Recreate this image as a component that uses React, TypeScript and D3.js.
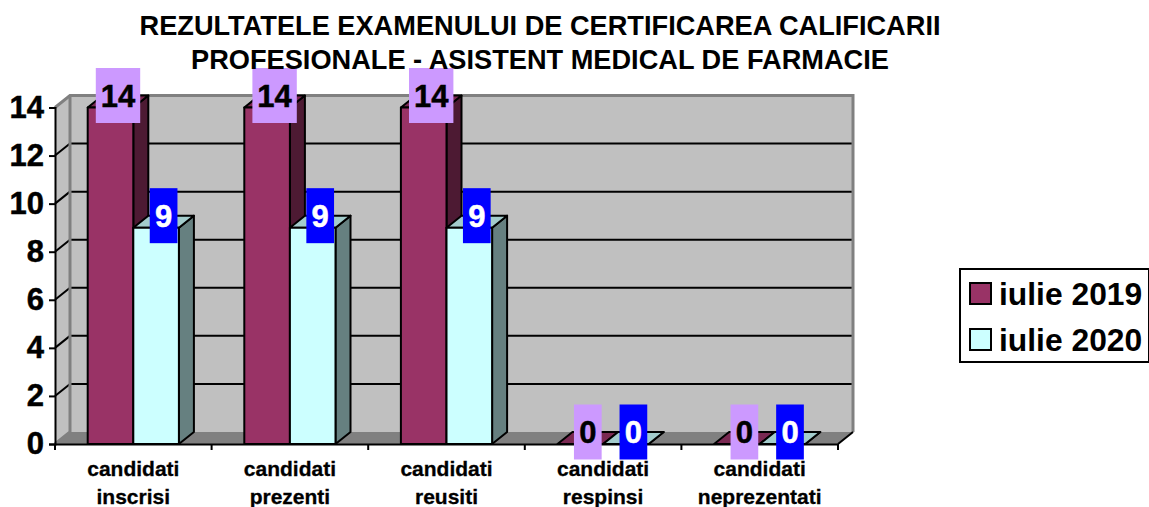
import React, { useEffect, useRef } from "react";
import * as d3 from "d3";

const categories = [
  "candidati inscrisi",
  "candidati prezenti",
  "candidati reusiti",
  "candidati respinsi",
  "candidati neprezentati",
];
const seriesNames = ["iulie 2019", "iulie 2020"];
const values2019 = [14, 14, 14, 0, 0];
const values2020 = [9, 9, 9, 0, 0];
const yTicks = [0, 2, 4, 6, 8, 10, 12, 14];
const titleLines = [
  "REZULTATELE EXAMENULUI DE CERTIFICAREA CALIFICARII",
  "PROFESIONALE - ASISTENT MEDICAL DE FARMACIE",
];

const w = 1149;
const h = 507;
const font = "'Liberation Sans', Arial, sans-serif";
const dx = 15; // 3d depth
const dy = -12;

const colors = [
  { front: "#993366", top: "#7a2952", side: "#4d1a33", label: "#cc99ff", text: "#000" },
  { front: "#ccffff", top: "#a3cccc", side: "#668080", label: "#0000ff", text: "#fff" },
];

function App() {
  const svgRef = useRef<SVGSVGElement>(null);

  useEffect(() => {
    const svg = d3.select(svgRef.current);
    svg.selectAll("*").remove();

    const x0 = d3.scaleBand().domain(categories).range([55, 838]);
    const x1 = d3
      .scaleBand()
      .domain(seriesNames)
      .range([0, x0.step()])
      .paddingInner(0)
      .paddingOuter(0.717);
    const y = d3.scaleLinear().domain([0, 14]).range([444, 107.5]);

    const left = 55;
    const right = 838;
    const pts = (a: number[][]) => a.map((p) => p.join(",")).join(" ");

    // walls
    svg
      .append("polygon")
      .attr("points", pts([[left + dx, y(14) + dy], [right + dx, y(14) + dy], [right + dx, y(0) + dy], [left + dx, y(0) + dy]]))
      .attr("fill", "#c0c0c0");
    svg
      .append("polygon")
      .attr("points", pts([[left, y(14)], [left + dx, y(14) + dy], [left + dx, y(0) + dy], [left, y(0)]]))
      .attr("fill", "#c0c0c0");
    svg
      .append("polygon")
      .attr("points", pts([[left, y(0)], [left + dx, y(0) + dy], [right + dx, y(0) + dy], [right, y(0)]]))
      .attr("fill", "#808080");

    // gridlines
    const grid = yTicks.filter((t) => t > 0 && t < 14);
    svg
      .selectAll("line.grid")
      .data(grid)
      .join("line")
      .attr("x1", left + dx)
      .attr("x2", right + dx)
      .attr("y1", (d) => y(d) + dy)
      .attr("y2", (d) => y(d) + dy)
      .attr("stroke", "#000")
      .attr("stroke-width", 2);
    svg
      .selectAll("line.gridside")
      .data(grid)
      .join("line")
      .attr("x1", left)
      .attr("x2", left + dx)
      .attr("y1", (d) => y(d))
      .attr("y2", (d) => y(d) + dy)
      .attr("stroke", "#000")
      .attr("stroke-width", 2);

    // wall edges
    svg
      .append("polyline")
      .attr("points", pts([[left, y(14)], [left + dx, y(14) + dy], [right + dx, y(14) + dy], [right + dx, y(0) + dy]]))
      .attr("fill", "none")
      .attr("stroke", "#808080")
      .attr("stroke-width", 3);
    svg
      .append("polyline")
      .attr("points", pts([[left, y(0)], [left + dx, y(0) + dy], [left + dx, y(14) + dy]]))
      .attr("fill", "none")
      .attr("stroke", "#808080")
      .attr("stroke-width", 3);
    svg
      .append("line")
      .attr("x1", right)
      .attr("y1", y(0))
      .attr("x2", right + dx)
      .attr("y2", y(0) + dy)
      .attr("stroke", "#000")
      .attr("stroke-width", 2);

    // bars
    const allValues = [values2019, values2020];
    categories.forEach((cat, i) => {
      seriesNames.forEach((s, j) => {
        const v = allValues[j][i];
        const c = colors[j];
        const xa = x0(cat)! + x1(s)!;
        const xb = xa + x1.bandwidth();
        const yv = y(v);
        const y0 = y(0);
        const g = svg.append("g").attr("stroke", "#000").attr("stroke-width", 2).attr("stroke-linejoin", "round");
        g.append("polygon")
          .attr("points", pts([[xb, yv], [xb + dx, yv + dy], [xb + dx, y0 + dy], [xb, y0]]))
          .attr("fill", c.side);
        g.append("polygon")
          .attr("points", pts([[xa, yv], [xa + dx, yv + dy], [xb + dx, yv + dy], [xb, yv]]))
          .attr("fill", c.top);
        g.append("rect")
          .attr("x", xa)
          .attr("y", yv)
          .attr("width", x1.bandwidth())
          .attr("height", y0 - yv)
          .attr("fill", c.front);
      });
    });

    // axes
    const yAxis = d3
      .axisLeft(y)
      .tickValues(yTicks)
      .tickSize(6)
      .tickPadding(5);
    const yG = svg.append("g").attr("transform", `translate(${left},0)`).call(yAxis);
    yG.select(".domain").attr("stroke", "#000").attr("stroke-width", 2);
    yG.selectAll("line").attr("stroke", "#000").attr("stroke-width", 2);
    yG.selectAll("text")
      .attr("font-family", font)
      .attr("font-weight", "bold")
      .attr("font-size", 31)
      .attr("fill", "#000")
      .attr("stroke", "#000")
      .attr("stroke-width", 0.5);

    const xAxis = d3
      .axisBottom(x0)
      .tickValues(categories)
      .tickSize(0)
      .tickFormat(() => "");
    const xG = svg.append("g").attr("transform", `translate(0,${y(0)})`).call(xAxis);
    xG.select(".domain").attr("stroke", "#000").attr("stroke-width", 2);
    xG.selectAll(".tick").remove();

    // tick marks sit between the categories
    svg
      .selectAll("line.xtick")
      .data(d3.range(categories.length + 1))
      .join("line")
      .attr("x1", (d) => left + d * x0.step())
      .attr("x2", (d) => left + d * x0.step())
      .attr("y1", y(0))
      .attr("y2", y(0) + 6)
      .attr("stroke", "#000")
      .attr("stroke-width", 2);

    // category labels
    categories.forEach((cat) => {
      const t = svg
        .append("text")
        .attr("text-anchor", "middle")
        .attr("font-family", font)
        .attr("font-weight", "bold")
        .attr("font-size", 21)
        .attr("fill", "#000")
        .attr("stroke", "#000")
        .attr("stroke-width", 0.3);
      cat.split(" ").forEach((line, k) => {
        t.append("tspan")
          .attr("x", x0(cat)! + x0.bandwidth() / 2)
          .attr("y", 476 + k * 27.5)
          .text(line);
      });
    });

    // data labels
    categories.forEach((cat, i) => {
      seriesNames.forEach((s, j) => {
        const v = allValues[j][i];
        const c = colors[j];
        const cx = x0(cat)! + x1(s)! + x1.bandwidth() / 2 + dx / 2;
        const cy = y(v) + dy;
        const bw = String(v).length * 16.7 + 11;
        svg
          .append("rect")
          .attr("x", cx - bw / 2)
          .attr("y", cy - 27.5)
          .attr("width", bw)
          .attr("height", 55)
          .attr("fill", c.label);
        svg
          .append("text")
          .attr("x", cx)
          .attr("y", cy + 11)
          .attr("text-anchor", "middle")
          .attr("font-family", font)
          .attr("font-weight", "bold")
          .attr("font-size", 31)
          .attr("fill", c.text)
          .attr("stroke", c.text)
          .attr("stroke-width", 0.5)
          .text(v);
      });
    });

    // title
    svg
      .selectAll("text.title")
      .data(titleLines)
      .join("text")
      .attr("x", 540)
      .attr("y", (d, i) => 35 + i * 34)
      .attr("text-anchor", "middle")
      .attr("font-family", font)
      .attr("font-weight", "bold")
      .attr("font-size", 27.2)
      .attr("fill", "#000")
      .text((d) => d);

    // legend
    svg
      .append("rect")
      .attr("x", 960)
      .attr("y", 269)
      .attr("width", 189)
      .attr("height", 93)
      .attr("fill", "#fff")
      .attr("stroke", "#000")
      .attr("stroke-width", 2);
    seriesNames.forEach((s, j) => {
      const ly = 293.5 + j * 46;
      svg
        .append("rect")
        .attr("x", 970)
        .attr("y", ly - 10.5)
        .attr("width", 21)
        .attr("height", 21)
        .attr("fill", colors[j].front)
        .attr("stroke", "#000")
        .attr("stroke-width", 2);
      svg
        .append("text")
        .attr("x", 999)
        .attr("y", ly + 11.5)
        .attr("font-family", font)
        .attr("font-weight", "bold")
        .attr("font-size", 31.8)
        .attr("fill", "#000")
        .text(s);
    });
  }, []);

  return (
    <svg
      ref={svgRef}
      width={w}
      height={h}
      style={{ position: "absolute", left: 0, top: 0, background: "#fff", display: "block" }}
    ></svg>
  );
}

export default App;
